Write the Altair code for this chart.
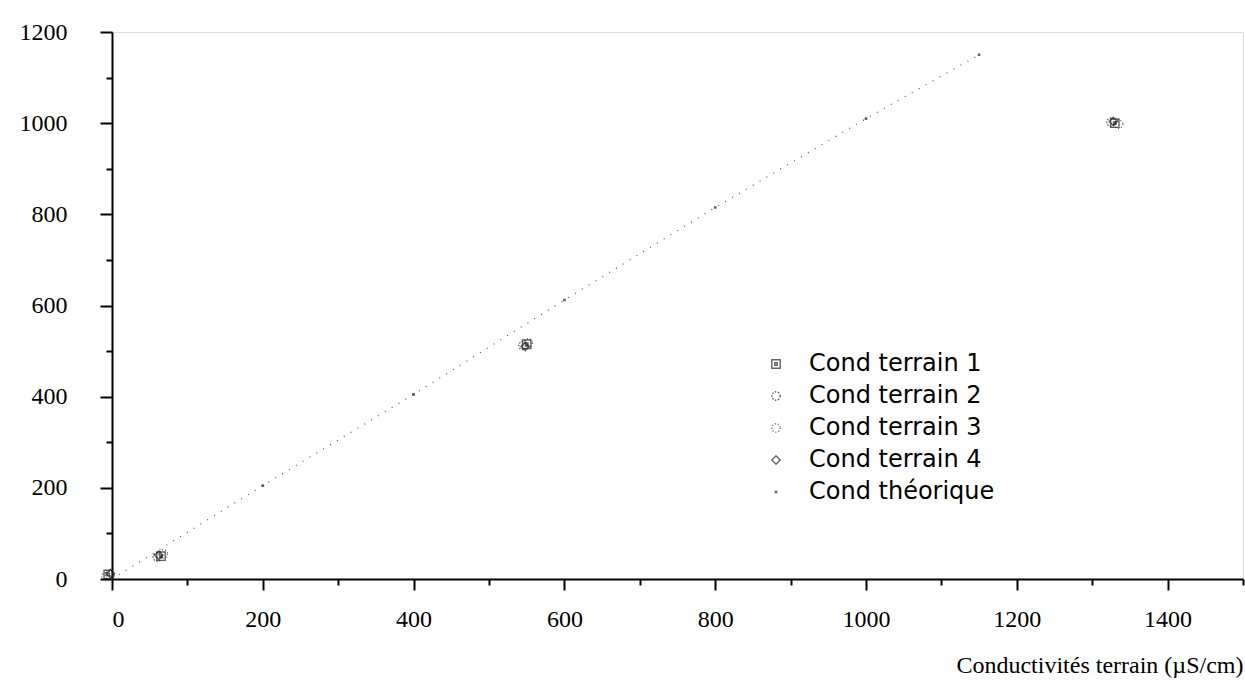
import altair as alt
import pandas as pd

series_names = ["Cond terrain 1", "Cond terrain 2", "Cond terrain 3",
                "Cond terrain 4", "Cond théorique"]

t1_x = [-5, 65, 550, 1330]
t1_y = [10, 50, 515, 1000]
t2_x = [-3, 60, 545, 1325]
t2_y = [8, 48, 512, 1002]
t3_x = [-8, 68, 552, 1335]
t3_y = [5, 55, 518, 998]
t4_x = [-2, 62, 548, 1328]
t4_y = [12, 52, 510, 1004]

theo_x = [0, 200, 400, 600, 800, 1000, 1150]
theo_y = [0, 205, 405, 612, 815, 1010, 1150]

x_ticks = list(range(0, 1501, 100))
y_ticks = list(range(0, 1201, 100))

rows = []
for name, xs, ys in [(series_names[0], t1_x, t1_y), (series_names[1], t2_x, t2_y),
                     (series_names[2], t3_x, t3_y), (series_names[3], t4_x, t4_y),
                     (series_names[4], theo_x, theo_y)]:
    for a, b in zip(xs, ys):
        rows.append({"x": a, "y": b, "serie": name})
pts = pd.DataFrame(rows)
theo = pd.DataFrame({"x": theo_x, "y": theo_y})

serif = "Liberation Serif"
sans = "DejaVu Sans"

x_enc = alt.X(
    "x:Q",
    scale=alt.Scale(domain=[0, 1500], nice=False, zero=False),
    axis=alt.Axis(
        values=x_ticks, format="d",
        labelExpr="datum.value % 200 == 0 ? datum.label : ''",
        tickSize={"condition": {"test": "datum.value % 200 == 0", "value": 11}, "value": 6},
        tickColor="black", tickWidth=2, domainColor="black", domainWidth=2,
        labelFont=serif, labelFontSize=24, labelColor="black", labelPadding=17,
        grid=False,
        title="Conductivités terrain (µS/cm)", titleFont=serif, titleFontSize=24,
        titleFontWeight="normal", titleColor="black", titleAnchor="end",
        titlePadding=22,
    ),
)
y_enc = alt.Y(
    "y:Q",
    scale=alt.Scale(domain=[0, 1200], nice=False, zero=False),
    axis=alt.Axis(
        values=y_ticks, format="d",
        labelExpr="datum.value % 200 == 0 ? datum.label : ''",
        tickSize={"condition": {"test": "datum.value % 200 == 0", "value": 12}, "value": 6},
        tickColor="black", tickWidth=2, domainColor="black", domainWidth=2,
        labelFont=serif, labelFontSize=24, labelColor="black", labelPadding=33,
        grid=False, title=None,
    ),
)

line = alt.Chart(theo).mark_line(
    strokeDash=[1, 7], color="#555555", strokeWidth=1.2, clip=False
).encode(x=x_enc, y=y_enc)

shape_range = [
    "M-1,-1L1,-1L1,1L-1,1Z M-0.3,-0.3L0.3,-0.3L0.3,0.3L-0.3,0.3Z",
    "circle",
    "circle",
    "diamond",
    "M-0.15,-0.15L0.15,-0.15L0.15,0.15L-0.15,0.15Z",
]
size_range = [70, 70, 45, 70, 70]
dash_range = [[1, 0], [1.5, 1.5], [1, 2], [1, 0], [1, 0]]

leg = dict(
    title=None, orient="none", legendX=652, legendY=320,
    labelFont=sans, labelFontSize=24, labelColor="black", labelLimit=0,
    rowPadding=8, labelOffset=21, symbolStrokeColor="#222222",
    symbolStrokeWidth=1.4,
)

points = alt.Chart(pts).mark_point(filled=False, color="#222222", strokeWidth=1.4, clip=False).encode(
    x=x_enc,
    y=y_enc,
    shape=alt.Shape("serie:N", scale=alt.Scale(domain=series_names, range=shape_range),
                    legend=alt.Legend(**leg)),
    size=alt.Size("serie:N", scale=alt.Scale(domain=series_names, range=size_range),
                  legend=alt.Legend(**leg)),
    strokeDash=alt.StrokeDash("serie:N", scale=alt.Scale(domain=series_names, range=dash_range),
                              legend=alt.Legend(**leg)),
)

chart = alt.layer(line, points).properties(
    width=1131, height=547,
    autosize=alt.AutoSizeParams(type="none"),
    padding={"left": 112, "top": 32, "right": 2, "bottom": 115},
).configure_view(stroke="black", strokeWidth=1.5).configure(background="white")

chart.save("out.html", embed_options={"renderer": "svg", "actions": False})
